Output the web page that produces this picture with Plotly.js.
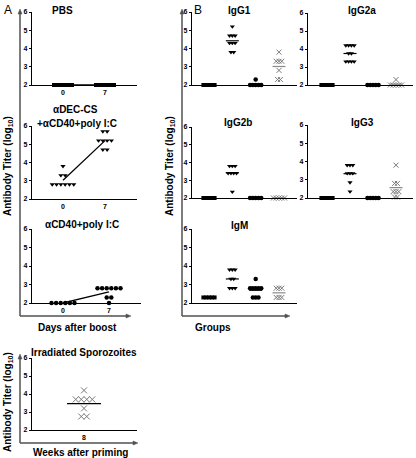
<!DOCTYPE html>
<html><head><meta charset="utf-8">
<script src="https://cdn.plot.ly/plotly-3.0.1.min.js"></script>
<style>html,body{margin:0;padding:0;background:#fff}#chart{width:416px;height:458px}</style>
</head><body><div id="chart"></div>
<script>
// ---------------- DATA ----------------
// Panel A (log10 titers per mouse)
const pbsDays = [0, 7];
const pbsVals = [[2,2,2,2,2,2,2],[2,2,2,2,2,2,2]];
const decDays = [0, 7];
const decVals = [[2.8,2.8,2.8,2.8,2.8,2.8,3.3,3.3,3.8],[5.7,5.7,5.2,5.2,5.2,5.2,4.7,4.7]];
const cd40Days = [0, 7];
const cd40Vals = [[2,2,2,2,2,2],[2.8,2.8,2.8,2.8,2.8,2.8,2.3,2.3,2]];
const sporoWeeks = [8];
const sporoVals = [[4.2,3.7,3.7,3.7,3.7,3.2,2.75,2.75]];
// Panel B: groups 1..4 (PBS, αDEC-CS+αCD40+poly I:C, αCD40+poly I:C, Irradiated sporozoites)
const groupPos = [1, 2, 3, 4];
const igG1  = [[2,2,2,2,2],[5.2,4.7,4.7,4.7,4.3,4.3,4.3,3.8,3.8],[2.3,2,2,2,2,2],[3.8,3.3,3.3,3.3,2.8,2.3,2.3]];
const igG2a = [[2,2,2,2,2],[4.2,4.2,4.2,4.2,3.75,3.75,3.3,3.3,3.3,3.3],[2,2,2,2,2],[2.3,2,2,2,2,2]];
const igG2b = [[2,2,2,2,2],[3.8,3.8,3.8,3.4,3.4,3.4,3.4,2.35],[2,2,2,2,2],[2,2,2,2,2]];
const igG3  = [[2,2,2,2,2],[3.8,3.8,3.8,3.35,3.35,3.35,2.85,2.35],[2,2,2,2,2],[3.8,2.8,2.8,2.35,2.35,2.35,2.05,2.05]];
const igM   = [[2.3,2.3,2.3,2.3,2.3],[3.8,3.8,3.8,3.3,3.3,2.8,2.8,2.8],[3.3,2.8,2.8,2.8,2.8,2.8,2.3,2.3,2.3],[2.8,2.8,2.8,2.3,2.3,2.3]];
const yTicks = [2, 3, 4, 5, 6];

// ---------------- LAYOUT HELPERS ----------------
const W = 416, H = 458;
const FONT = 'Liberation Sans, Arial, sans-serif';
const fx = p => p / W, fy = p => 1 - p / H;

const SQ = {symbol:'square', color:'#000', size:4};
const TRI = {symbol:'triangle-down', color:'#000', size:4.5};
const CIR = {symbol:'circle', color:'#000', size:4.5};
const CRS = {symbol:'x-thin-open', color:'#7a7a7a', size:5, line:{color:'#7a7a7a', width:1}};
const CRSA = {symbol:'x-thin-open', color:'#7a7a7a', size:6, line:{color:'#7a7a7a', width:1}};

const bStyles = [SQ, TRI, CIR, CRS];
const panels = [
  {box:[32,137,12,85],  anc:[[0,63],[7,105]], xs:pbsDays, vals:pbsVals, st:[SQ,SQ], sp:3, connect:true, ticks:[0,7]},
  {box:[32,137,126,199],anc:[[0,63],[7,105]], xs:decDays, vals:decVals, st:[TRI,TRI], sp:4.3, connect:true, ticks:[0,7]},
  {box:[32,141,229,303],anc:[[0,63],[7,109]], xs:cd40Days, vals:cd40Vals, st:[CIR,CIR], sp:4.6, connect:true, ticks:[0,7]},
  {box:[32,137,358,430],anc:[[8,84],[9,90]], xs:sporoWeeks, vals:sporoVals, st:[CRSA], sp:5.5, meanHW:17, ticks:[8]},
  {box:[192,297,12,85], anc:[[1,209],[4,279]], xs:groupPos, vals:igG1, st:bStyles, sp:2.8, meanHW:6.5, ticks:[]},
  {box:[308,413,13,85], anc:[[1,327],[4,396]], xs:groupPos, vals:igG2a, st:bStyles, sp:2.8, meanHW:6.5, ticks:[]},
  {box:[192,297,127,198],anc:[[1,209],[4,279]], xs:groupPos, vals:igG2b, st:bStyles, sp:2.8, meanHW:6.5, ticks:[]},
  {box:[308,413,125,198],anc:[[1,327],[4,396]], xs:groupPos, vals:igG3, st:bStyles, sp:2.8, meanHW:6.5, ticks:[]},
  {box:[192,297,229,303],anc:[[1,209],[4,279]], xs:groupPos, vals:igM, st:bStyles, sp:2.8, meanHW:6.5, ticks:[]}
];

const mean = a => a.reduce((s,v)=>s+v,0)/a.length;
const traces = [];
const layout = {
  width: W, height: H, margin:{l:0,r:0,t:0,b:0},
  paper_bgcolor:'#fff', plot_bgcolor:'rgba(0,0,0,0)', showlegend:false,
  font:{family:FONT, color:'#000'}, annotations:[], shapes:[]
};

panels.forEach((p, i) => {
  const n = i + 1, sfx = n === 1 ? '' : String(n);
  const [x0,x1,yT,yB] = p.box;
  const b = (p.anc[1][1]-p.anc[0][1])/(p.anc[1][0]-p.anc[0][0]); // px per unit
  const v0 = p.anc[0][0], p0 = p.anc[0][1];
  const range = [v0 + (x0-p0)/b, v0 + (x1-p0)/b];
  const hasTicks = p.ticks.length > 0;
  layout['xaxis'+sfx] = {
    domain:[fx(x0), fx(x1)], range, anchor:'y'+sfx, showline:true, linecolor:'#000', linewidth:1.4,
    showgrid:false, zeroline:false, ticks:'', showticklabels:hasTicks,
    tickvals: hasTicks ? p.ticks : undefined, ticktext: hasTicks ? p.ticks.map(String) : undefined,
    tickfont:{size:7, family:FONT, weight:'bold'}, fixedrange:true
  };
  layout['yaxis'+sfx] = {
    domain:[fy(yB), fy(yT)], range:[2,6], anchor:'x'+sfx, showline:true, linecolor:'#000', linewidth:1.2,
    showgrid:false, zeroline:false, ticks:'outside', ticklen:2, tickwidth:1, tickcolor:'#000',
    tickvals:yTicks, ticktext:yTicks.map(String), tickfont:{size:7, family:FONT, weight:'bold'}, fixedrange:true
  };
  const xa = 'x'+sfx, ya = 'y'+sfx;
  const means = [];
  p.xs.forEach((xv, g) => {
    const vals = p.vals[g];
    // beeswarm: spread equal values horizontally
    const counts = {}, idx = {};
    vals.forEach(v => counts[v] = (counts[v]||0)+1);
    const xsOut = vals.map(v => {
      idx[v] = (idx[v]||0);
      const k = idx[v]++;
      return xv + ((k - (counts[v]-1)/2) * p.sp) / b;
    });
    const st = p.st[g];
    traces.push({type:'scatter', mode:'markers', x:xsOut, y:vals, xaxis:xa, yaxis:ya, cliponaxis:false,
      marker:Object.assign({}, st), hoverinfo:'skip'});
    const m = mean(vals);
    means.push(m);
    if (p.meanHW) {
      const hw = p.meanHW / b;
      traces.push({type:'scatter', mode:'lines', x:[xv-hw, xv+hw], y:[m, m], xaxis:xa, yaxis:ya, cliponaxis:false,
        line:{color: st === CRS ? '#8a8a8a' : '#000', width:1.2}, hoverinfo:'skip'});
    }
  });
  if (p.connect) {
    traces.push({type:'scatter', mode:'lines', x:p.xs, y:means, xaxis:xa, yaxis:ya, cliponaxis:false,
      line:{color:'#000', width:1.3}, hoverinfo:'skip'});
  }
});

function ann(text, x, y, opt) {
  layout.annotations.push(Object.assign({
    text, x:fx(x), y:fy(y), xref:'paper', yref:'paper', showarrow:false,
    xanchor:'center', yanchor:'middle', font:{family:FONT, size:10, color:'#000'}
  }, opt||{}));
}
ann('A', 2, 10, {xanchor:'left', font:{family:FONT, size:12}});
ann('B', 192, 10, {xanchor:'left', font:{family:FONT, size:12}});
ann('<b>PBS</b>', 63, 10);
ann('<b>αDEC-CS</b>', 75, 109);
ann('<b>+αCD40+poly I:C</b>', 77, 124);
ann('<b>αCD40+poly I:C</b>', 82, 224);
ann('<b>Irradiated Sporozoites</b>', 84, 352);
ann('<b>IgG1</b>', 240, 10);
ann('<b>IgG2a</b>', 362, 10);
ann('<b>IgG2b</b>', 238, 122);
ann('<b>IgG3</b>', 362, 122);
ann('<b>IgM</b>', 240, 225);
ann('<b>Days after boost</b>', 77, 327);
ann('<b>Weeks after priming</b>', 80, 452);
ann('<b>Groups</b>', 213, 327);
const yl = '<b>Antibody Titer (log<sub>10</sub>)</b>';
ann(yl, 8, 166, {textangle:-90});
ann(yl, 8, 402, {textangle:-90});
ann(yl, 170, 166, {textangle:-90});

// outer arrows
const OC = '#505050';
function seg(xa, ya, xb, yb) {
  layout.shapes.push({type:'line', xref:'paper', yref:'paper', x0:fx(xa), y0:fy(ya), x1:fx(xb), y1:fy(yb),
    line:{color:OC, width:1.5}});
}
function tri(pts) {
  const d = 'M ' + pts.map(q => fx(q[0]) + ' ' + fy(q[1])).join(' L ') + ' Z';
  layout.shapes.push({type:'path', xref:'paper', yref:'paper', path:d, fillcolor:OC, line:{color:OC, width:0.5}});
}
seg(20, 12, 20, 316); seg(20, 316, 128, 316);
tri([[18,14],[22,14],[20,9]]); tri([[126,314],[126,318],[131,316]]);
seg(20, 357, 20, 443); seg(20, 443, 135, 443);
tri([[18,359],[22,359],[20,354]]); tri([[133,441],[133,445],[138,443]]);
seg(182, 12, 182, 316); seg(182, 316, 287, 316);
tri([[180,14],[184,14],[182,9]]); tri([[285,314],[285,318],[290,316]]);

Plotly.newPlot('chart', traces, layout, {staticPlot:true, displayModeBar:false});
</script></body></html>
